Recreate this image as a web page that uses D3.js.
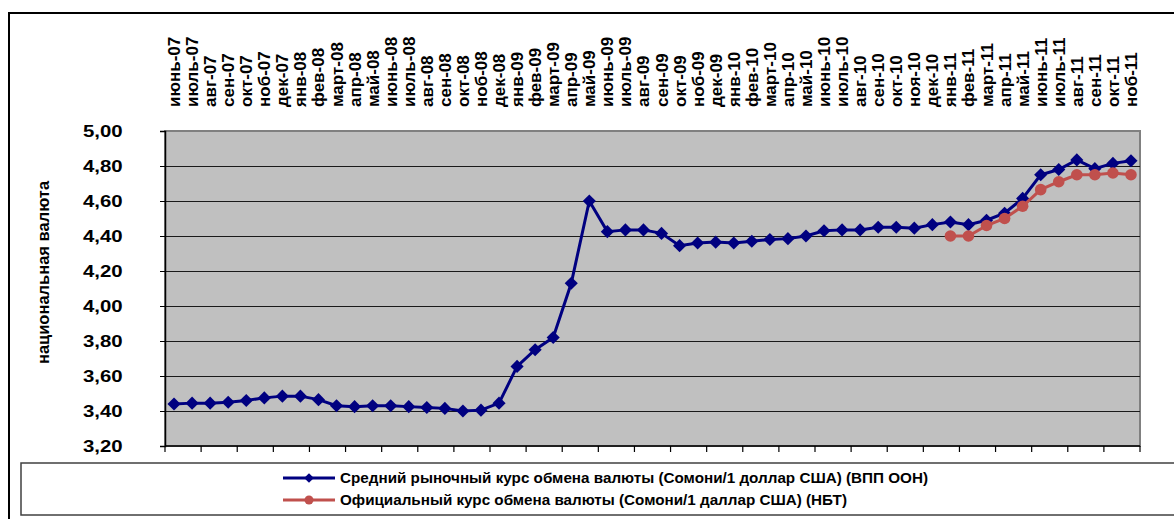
<!DOCTYPE html>
<html lang="ru">
<head>
  <meta charset="utf-8">
  <title>Курс обмена валюты</title>
  <style>
    html,body { margin:0; padding:0; background:#fff; overflow:hidden; }
    svg { display:block; }
    text { font-family:"Liberation Sans", Arial, sans-serif; font-weight:bold; fill:#000; }
    .legend text { font-family:"Liberation Sans Narrow", "Arial Narrow", "Liberation Sans", sans-serif; }
  </style>
  <script src="https://d3js.org/d3.v7.min.js"></script>
</head>
<body>
<svg width="1174" height="519"></svg>
<script>
// ---- data ----
const months = [
  "июнь-07","июль-07","авг-07","сен-07","окт-07","ноб-07","дек-07",
  "янв-08","фев-08","март-08","апр-08","май-08","июнь-08","июль-08","авг-08","сен-08","окт-08","ноб-08","дек-08",
  "янв-09","фев-09","март-09","апр-09","май-09","июнь-09","июль-09","авг-09","сен-09","окт-09","ноб-09","дек-09",
  "янв-10","фев-10","март-10","апр-10","май-10","июнь-10","июль-10","авг-10","сен-10","окт-10","ноя-10","дек-10",
  "янв-11","фев-11","март-11","апр-11","май-11","июнь-11","июль-11","авг-11","сен-11","окт-11","ноб-11"
];
const marketRate = [
  3.44, 3.445, 3.445, 3.45, 3.46, 3.475, 3.485,
  3.485, 3.465, 3.43, 3.425, 3.43, 3.43, 3.425, 3.42, 3.415, 3.40, 3.405, 3.445,
  3.655, 3.75, 3.82, 4.13, 4.60, 4.425, 4.435, 4.435, 4.415, 4.345, 4.36, 4.365,
  4.36, 4.37, 4.38, 4.385, 4.40, 4.43, 4.435, 4.435, 4.45, 4.45, 4.445, 4.465,
  4.48, 4.465, 4.49, 4.53, 4.615, 4.75, 4.78, 4.835, 4.785, 4.815, 4.83
];
const officialRate = [
  null, null, null, null, null, null, null,
  null, null, null, null, null, null, null, null, null, null, null, null,
  null, null, null, null, null, null, null, null, null, null, null, null,
  null, null, null, null, null, null, null, null, null, null, null, null,
  4.40, 4.40, 4.46, 4.50, 4.57, 4.665, 4.71, 4.75, 4.75, 4.76, 4.75
];
const yTicks = [3.2, 3.4, 3.6, 3.8, 4.0, 4.2, 4.4, 4.6, 4.8, 5.0];
const yTitle = "национальная валюта";
const legendLabels = [
  "Средний рыночный курс обмена валюты (Сомони/1 доллар США) (ВПП ООН)",
  "Официальный курс обмена валюты (Сомони/1 даллар США) (НБТ)"
];

// ---- layout ----
const plot = { left: 165, right: 1140, top: 131, bottom: 446 };
const svg = d3.select("svg");

// outer chart frame (top + left edges visible)
svg.append("path")
  .attr("d", "M9,519 V13 H1174")
  .attr("fill", "none").attr("stroke", "#000").attr("stroke-width", 2);

const x = d3.scaleBand().domain(months).range([plot.left, plot.right]);
const y = d3.scaleLinear().domain([3.2, 5.0]).range([plot.bottom, plot.top]);

// plot area
svg.append("rect")
  .attr("x", plot.left).attr("y", plot.top)
  .attr("width", plot.right - plot.left).attr("height", plot.bottom - plot.top)
  .attr("fill", "#c0c0c0").attr("stroke", "#808080").attr("stroke-width", 2);

// gridlines
svg.append("g").selectAll("line")
  .data(yTicks.filter(t => t > 3.2 && t < 5.0))
  .join("line")
    .attr("x1", plot.left).attr("x2", plot.right)
    .attr("y1", d => Math.round(y(d)) + 0.5).attr("y2", d => Math.round(y(d)) + 0.5)
    .attr("stroke", "#1a1a1a").attr("stroke-width", 1);

// y axis
const yAxis = svg.append("g")
  .attr("transform", `translate(${plot.left},0)`)
  .call(d3.axisLeft(y).tickValues(yTicks).tickSize(5)
        .tickFormat(d => d3.format(".2f")(d).replace(".", ",")));
yAxis.select(".domain").attr("stroke", "#000").attr("stroke-width", 1.5);
yAxis.selectAll(".tick line").attr("stroke", "#000");
// labels are drawn a bit wider than the font, like the original
yAxis.selectAll(".tick text")
  .attr("font-size", 17)
  .attr("text-anchor", "start")
  .attr("x", -82 / 1.2)
  .attr("transform", "scale(1.2,1)");

// bottom axis line with ticks every 2 months
svg.append("line")
  .attr("x1", plot.left).attr("x2", plot.right)
  .attr("y1", plot.bottom).attr("y2", plot.bottom)
  .attr("stroke", "#000").attr("stroke-width", 1.5);
svg.append("g").selectAll("line")
  .data(months.filter((m, i) => i % 2 === 0).concat(["__end"]))
  .join("line")
    .attr("x1", d => d === "__end" ? plot.right : x(d))
    .attr("x2", d => d === "__end" ? plot.right : x(d))
    .attr("y1", plot.bottom).attr("y2", plot.bottom + 6)
    .attr("stroke", "#000").attr("stroke-width", 1.2);

// month labels on top, rotated, reading upward
svg.append("g").selectAll("text")
  .data(months)
  .join("text")
    .attr("transform", d => `translate(${x(d) + x.bandwidth() / 2 + 6},107) rotate(-90)`)
    .attr("text-anchor", "start")
    .attr("font-size", 17)
    .text(d => d);

// y axis title
svg.append("text")
  .attr("transform", `translate(49,${(183 + 362) / 2}) rotate(-90)`)
  .attr("text-anchor", "middle")
  .attr("font-size", 16.5)
  .text(yTitle);

// ---- series ----
const cx = (d, i) => x(months[i]) + x.bandwidth() / 2;
const line = d3.line().defined(d => d != null).x(cx).y(d => y(d));
const diamond = d3.symbol().type(d3.symbolDiamond2).size(110);

svg.append("path").datum(marketRate)
  .attr("d", line).attr("fill", "none")
  .attr("stroke", "#000080").attr("stroke-width", 3);
svg.append("g").selectAll("path")
  .data(marketRate)
  .join("path")
    .attr("d", diamond)
    .attr("transform", (d, i) => `translate(${cx(d, i)},${y(d)})`)
    .attr("fill", "#000080");

svg.append("path").datum(officialRate)
  .attr("d", line).attr("fill", "none")
  .attr("stroke", "#c0504d").attr("stroke-width", 3);
svg.append("g").selectAll("circle")
  .data(officialRate.map((v, i) => ({ v, i })).filter(d => d.v != null))
  .join("circle")
    .attr("cx", d => cx(d.v, d.i)).attr("cy", d => y(d.v))
    .attr("r", 5.8).attr("fill", "#c0504d");

// ---- legend ----
const legend = svg.append("g").attr("class", "legend");
legend.append("rect")
  .attr("x", 21).attr("y", 463).attr("width", 1160).attr("height", 52)
  .attr("fill", "#fff").attr("stroke", "#404040").attr("stroke-width", 1.5);

const legendItems = [
  { label: legendLabels[0], color: "#000080", marker: "diamond", yy: 478, len: 588 },
  { label: legendLabels[1], color: "#c0504d", marker: "circle", yy: 500, len: 507 }
];
legendItems.forEach(it => {
  legend.append("line")
    .attr("x1", 283).attr("x2", 335).attr("y1", it.yy).attr("y2", it.yy)
    .attr("stroke", it.color).attr("stroke-width", 3);
  if (it.marker === "diamond") {
    legend.append("path")
      .attr("d", d3.symbol().type(d3.symbolDiamond2).size(60))
      .attr("transform", `translate(309,${it.yy})`).attr("fill", it.color);
  } else {
    legend.append("circle").attr("cx", 309).attr("cy", it.yy).attr("r", 4.5).attr("fill", it.color);
  }
  legend.append("text")
    .attr("x", 340).attr("y", it.yy).attr("dy", "0.35em")
    .attr("font-size", 14)
    .attr("textLength", it.len).attr("lengthAdjust", "spacingAndGlyphs")
    .text(it.label);
});
</script>
</body>
</html>
